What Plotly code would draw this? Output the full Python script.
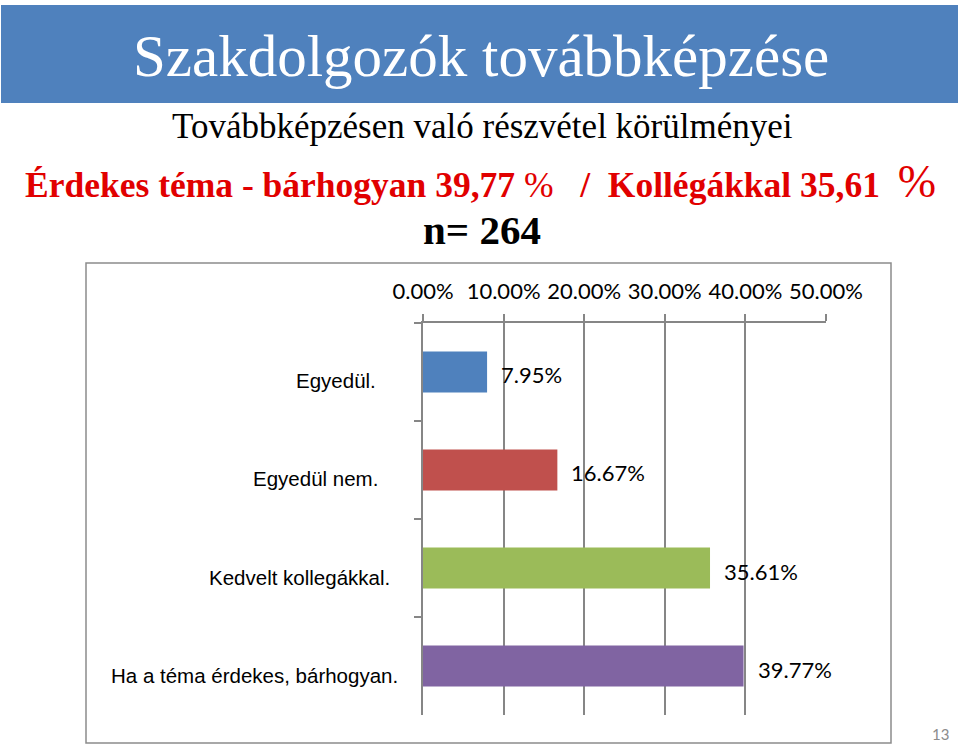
import plotly.graph_objects as go

categories = ["Egyedül.", "Egyedül nem.", "Kedvelt kollegákkal.", "Ha a téma érdekes, bárhogyan."]
values = [7.95, 16.67, 35.61, 39.77]
colors = ["#4F81BD", "#C0504D", "#9BBB59", "#8064A2"]
tick_vals = [0, 10, 20, 30, 40, 50]
tick_text = ["0.00%", "10.00%", "20.00%", "30.00%", "40.00%", "50.00%"]

title = "Szakdolgozók továbbképzése"
subtitle = "Továbbképzésen való részvétel körülményei"
n_text = "n= 264"
page_no = "13"

W, H = 960, 744
def px(x):
    return x / W
def py(y):
    return 1 - y / H

fig = go.Figure()
fig.add_trace(go.Bar(
    x=values, y=categories, orientation="h",
    marker=dict(color=colors, line=dict(width=0)),
    width=0.42, hoverinfo="skip",
))

annotations = []
# data labels
for c, v in zip(categories, values):
    annotations.append(dict(
        x=v, y=c, xref="x", yref="y", text=f"{v:.2f}%", showarrow=False,
        xanchor="left", yanchor="middle", xshift=12, yshift=-3,
        font=dict(family="Lato", size=22, color="#000000"),
    ))
# category labels (Excel-style wrapped/centered positions)
label_centers = [336, 315, 299, 254]
for c, xc in zip(categories, label_centers):
    annotations.append(dict(
        x=px(xc), y=c, xref="paper", yref="y", text=c, showarrow=False,
        xanchor="center", yanchor="middle", yshift=-9,
        font=dict(family="Liberation Sans, Arial", size=20.5, color="#000000"),
    ))

annotations += [
    dict(x=px(481), y=py(56), xref="paper", yref="paper", text=title, showarrow=False,
         xanchor="center", yanchor="middle",
         font=dict(family="Liberation Serif, Times New Roman", size=59, color="#FFFFFF")),
    dict(x=px(482), y=py(127), xref="paper", yref="paper", text=subtitle, showarrow=False,
         xanchor="center", yanchor="middle",
         font=dict(family="Liberation Serif, Times New Roman", size=35, color="#000000")),
    dict(x=px(480), y=py(181), xref="paper", yref="paper",
         text="<b>Érdekes téma - bárhogyan 39,77</b> %\u00a0\u00a0\u00a0<b>/\u00a0\u00a0Kollégákkal 35,61</b>\u00a0\u00a0<span style='font-size:46px'>%</span>",
         showarrow=False, xanchor="center", yanchor="middle",
         font=dict(family="Liberation Serif, Times New Roman", size=35.5, color="#E10000")),
    dict(x=px(482), y=py(230), xref="paper", yref="paper", text=f"<b>{n_text}</b>", showarrow=False,
         xanchor="center", yanchor="middle",
         font=dict(family="Liberation Serif, Times New Roman", size=41, color="#000000")),
    dict(x=px(940), y=py(734), xref="paper", yref="paper", text=page_no, showarrow=False,
         xanchor="center", yanchor="middle",
         font=dict(family="Lato", size=15, color="#8C8C8C")),
]

shapes = [
    dict(type="rect", xref="paper", yref="paper", x0=px(1), x1=px(958), y0=py(5), y1=py(103),
         fillcolor="#4F81BD", line=dict(width=0), layer="below"),
    dict(type="rect", xref="paper", yref="paper", x0=px(86), x1=px(891), y0=py(263), y1=py(743),
         fillcolor="rgba(0,0,0,0)", line=dict(color="#8C8C8C", width=1.5)),
]

fig.update_layout(
    width=W, height=H, margin=dict(l=0, r=0, t=0, b=0),
    paper_bgcolor="#FFFFFF", plot_bgcolor="#FFFFFF",
    showlegend=False, bargap=0.58,
    annotations=annotations, shapes=shapes,
    xaxis=dict(
        domain=[px(423), px(826)], range=[0, 50], side="top", automargin=False,
        tickvals=tick_vals, ticktext=tick_text,
        showgrid=True, gridcolor="#868686", gridwidth=1.5,
        showline=True, linecolor="#868686", linewidth=1.5,
        ticks="outside", ticklen=7, tickcolor="#868686", tickwidth=1.5,
        tickfont=dict(family="Lato", size=22, color="#000000"),
        ticklabelstandoff=6,
        zeroline=False, fixedrange=True,
    ),
    yaxis=dict(
        domain=[py(715), py(323)], autorange="reversed", automargin=False,
        showticklabels=False, tickson="boundaries",
        ticks="outside", ticklen=7, tickcolor="#868686", tickwidth=1.5,
        showline=True, linecolor="#868686", linewidth=1.5,
        showgrid=False, zeroline=False, fixedrange=True,
    ),
)

fig.write_html("out.html")
